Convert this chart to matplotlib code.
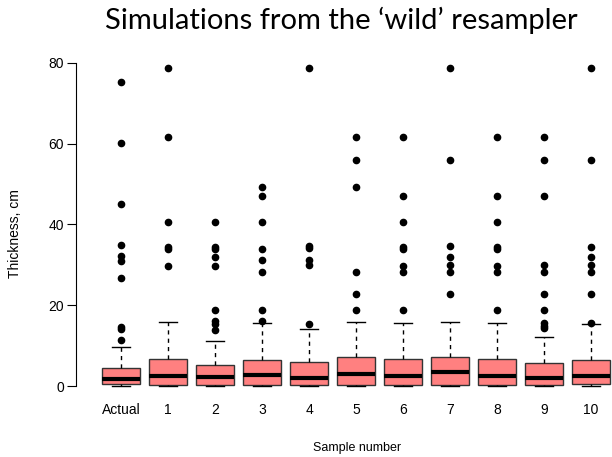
import matplotlib
matplotlib.use("Agg")
import matplotlib.pyplot as plt

labels = ['Actual', '1', '2', '3', '4', '5', '6', '7', '8', '9', '10']
whislo = [0.0, 0.0, 0.0, 0.0, 0.0, 0.0, 0.0, 0.0, 0.0, 0.0, 0.0]
q1 = [0.5, 0.3, 0.3, 0.3, 0.3, 0.3, 0.3, 0.3, 0.3, 0.3, 0.4]
med = [1.7, 2.5, 2.2, 2.7, 2.1, 2.9, 2.6, 3.5, 2.6, 2.1, 2.5]
q3 = [4.4, 6.7, 5.3, 6.4, 5.9, 7.2, 6.6, 7.2, 6.8, 5.8, 6.4]
whishi = [9.6, 15.9, 11.2, 15.5, 14.1, 15.9, 15.5, 15.9, 15.5, 12.2, 15.3]
fliers = [
    [75.2, 60.1, 45.0, 34.8, 32.1, 30.9, 26.7, 14.7, 14.1, 11.5],
    [78.6, 61.6, 40.5, 34.4, 33.8, 29.8],
    [40.5, 34.4, 33.8, 32.0, 29.8, 18.9, 16.2, 15.3, 13.9],
    [49.3, 46.9, 40.5, 33.8, 31.1, 28.1, 18.9, 16.0],
    [78.6, 34.7, 34.1, 31.1, 29.9, 15.4],
    [61.6, 56.0, 49.3, 28.1, 22.7, 18.9],
    [61.6, 46.9, 40.5, 34.4, 33.8, 29.8, 28.1, 18.9],
    [78.6, 56.0, 34.6, 32.0, 30.0, 28.1, 22.7],
    [61.6, 46.9, 40.5, 34.4, 33.8, 29.8, 28.1, 18.9],
    [61.6, 56.0, 46.9, 29.9, 28.1, 22.7, 18.9, 15.6, 14.9, 14.3],
    [78.6, 56.0, 34.3, 32.0, 30.0, 28.1, 22.7, 15.6],
]

stats = []
for i in range(len(labels)):
    stats.append(dict(label=labels[i], whislo=whislo[i], q1=q1[i], med=med[i],
                      q3=q3[i], whishi=whishi[i], fliers=fliers[i]))

fig = plt.figure(figsize=(6.12, 4.57), dpi=100)
ax = fig.add_axes([97.5 / 612, 1 - 398.7 / 457, 517 / 612, (398.7 - 55.8) / 457])

ax.bxp(stats, positions=range(1, len(labels) + 1), widths=0.8, capwidths=0.4,
       patch_artist=True,
       boxprops=dict(facecolor='#ff8080', edgecolor='#333333', linewidth=1),
       medianprops=dict(color='black', linewidth=3, solid_capstyle='butt'),
       whiskerprops=dict(color='black', linewidth=1, linestyle=(0, (3, 3))),
       capprops=dict(color='black', linewidth=1),
       flierprops=dict(marker='o', markerfacecolor='black', markeredgecolor='black',
                       markersize=4.5, linestyle='none'))

ax.set_xlim(0.5, 11.5)
ax.set_ylim(-3.14, 81.7)
ax.set_yticks([0, 20, 40, 60, 80])
for s in ['top', 'right', 'bottom']:
    ax.spines[s].set_visible(False)
ax.spines['left'].set_bounds(0, 80)
ax.spines['left'].set_position(('outward', 15.5))
ax.tick_params(axis='x', length=0, pad=3, labelsize=10)
ax.tick_params(axis='y', length=6.5, pad=2, labelsize=10)
for t in ax.get_xticklabels() + ax.get_yticklabels():
    t.set_family('Liberation Sans')

fig.text(15 / 612, 1 - 234 / 457, 'Thickness, cm', family='Liberation Sans',
         fontsize=10, rotation=90, ha='center', va='center')
fig.text(357.5 / 612, 1 - 448 / 457, 'Sample number', family='Liberation Sans',
         fontsize=9, ha='center', va='center')
fig.text(341.5 / 612, 1 - 20 / 457, 'Simulations from the \u2018wild\u2019 resampler',
         ha='center', va='center', fontsize=21, family='Lato')

fig.savefig('out.png', dpi=100)
